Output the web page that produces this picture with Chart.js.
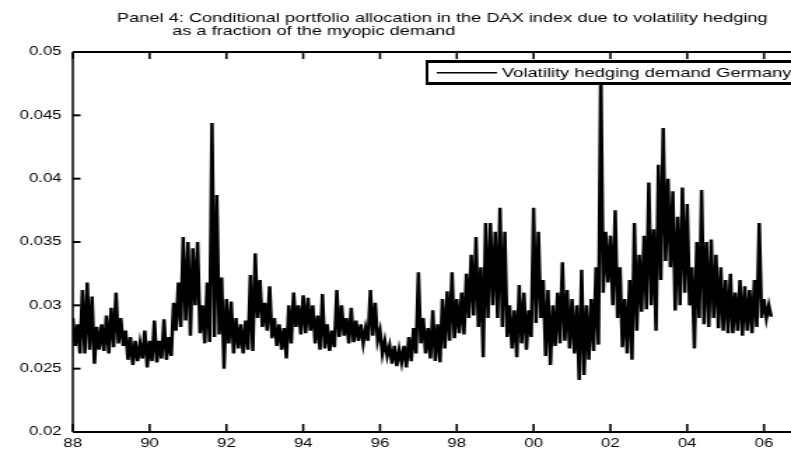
<!DOCTYPE html>
<html>
<head>
<meta charset="utf-8">
<script src="https://cdn.jsdelivr.net/npm/chart.js@4/dist/chart.umd.min.js"></script>
<style>
  html, body { margin: 0; padding: 0; background: #fff; }
  #wrap { width: 791px; height: 457px; overflow: hidden; }
  /* the figure is stretched sideways, like the exported panel */
  #chart { display: block; transform: scaleX(1.4); transform-origin: 0 0; }
</style>
</head>
<body>
<div id="wrap"><canvas id="chart" width="580" height="457"></canvas></div>
<script>
const titleLines = [
  'Panel 4: Conditional portfolio allocation in the DAX index due to volatility hedging',
  'as a fraction of the myopic demand'
];
const seriesName = 'Volatility hedging demand Germany';

const yearTicks = [88, 90, 92, 94, 96, 98, 100, 102, 104, 106];
const yearLabels = ['88', '90', '92', '94', '96', '98', '00', '02', '04', '06'];
const yTicks = [0.02, 0.025, 0.03, 0.035, 0.04, 0.045, 0.05];

// one column every eighth of a year: high and low of the weekly series
const firstYear = 88;
const yearStep = 0.125;

const highs = [
  0.0290, 0.0285, 0.0312, 0.0318, 0.0307, 0.0283, 0.0285, 0.0292, 0.0298, 0.0310,
  0.0290, 0.0280, 0.0275, 0.0272, 0.0270, 0.0280, 0.0272, 0.0288, 0.0272, 0.0289,
  0.0275, 0.0302, 0.0318, 0.0354, 0.0350, 0.0345, 0.0350, 0.0300, 0.0318, 0.0444,
  0.0387, 0.0322, 0.0305, 0.0303, 0.0290, 0.0285, 0.0288, 0.0324, 0.0341, 0.0320,
  0.0302, 0.0315, 0.0290, 0.0285, 0.0282, 0.0300, 0.0310, 0.0300, 0.0308, 0.0306,
  0.0300, 0.0292, 0.0309, 0.0285, 0.0280, 0.0312, 0.0300, 0.0290, 0.0298, 0.0288,
  0.0285, 0.0282, 0.0312, 0.0302, 0.0280, 0.0272, 0.0268, 0.0268, 0.0265, 0.0268,
  0.0275, 0.0282, 0.0326, 0.0290, 0.0282, 0.0296, 0.0285, 0.0305, 0.0311, 0.0326,
  0.0305, 0.0310, 0.0325, 0.0340, 0.0354, 0.0330, 0.0365, 0.0365, 0.0358, 0.0377,
  0.0358, 0.0300, 0.0296, 0.0316, 0.0310, 0.0296, 0.0377, 0.0358, 0.0320, 0.0312,
  0.0300, 0.0310, 0.0334, 0.0312, 0.0305, 0.0300, 0.0328, 0.0300, 0.0305, 0.0330,
  0.0490, 0.0358, 0.0355, 0.0375, 0.0330, 0.0305, 0.0320, 0.0365, 0.0340, 0.0355,
  0.0397, 0.0360, 0.0411, 0.0440, 0.0400, 0.0390, 0.0370, 0.0393, 0.0380, 0.0330,
  0.0350, 0.0391, 0.0350, 0.0352, 0.0340, 0.0330, 0.0320, 0.0325, 0.0310, 0.0320,
  0.0315, 0.0312, 0.0320, 0.0365, 0.0305, 0.0300
];
const lows = [
  0.0268, 0.0262, 0.0262, 0.0265, 0.0254, 0.0265, 0.0264, 0.0262, 0.0267, 0.0270,
  0.0268, 0.0257, 0.0253, 0.0256, 0.0258, 0.0251, 0.0256, 0.0255, 0.0258, 0.0257,
  0.0260, 0.0280, 0.0283, 0.0288, 0.0276, 0.0300, 0.0278, 0.0270, 0.0271, 0.0275,
  0.0277, 0.0250, 0.0270, 0.0262, 0.0266, 0.0262, 0.0265, 0.0264, 0.0290, 0.0283,
  0.0280, 0.0274, 0.0268, 0.0265, 0.0258, 0.0270, 0.0283, 0.0277, 0.0278, 0.0280,
  0.0270, 0.0265, 0.0266, 0.0264, 0.0267, 0.0275, 0.0276, 0.0270, 0.0271, 0.0272,
  0.0270, 0.0272, 0.0276, 0.0272, 0.0262, 0.0260, 0.0254, 0.0252, 0.0255, 0.0251,
  0.0256, 0.0262, 0.0270, 0.0262, 0.0258, 0.0256, 0.0255, 0.0266, 0.0272, 0.0274,
  0.0278, 0.0277, 0.0290, 0.0292, 0.0283, 0.0259, 0.0290, 0.0300, 0.0290, 0.0283,
  0.0275, 0.0266, 0.0259, 0.0270, 0.0265, 0.0275, 0.0286, 0.0290, 0.0260, 0.0253,
  0.0268, 0.0270, 0.0272, 0.0266, 0.0262, 0.0241, 0.0245, 0.0257, 0.0264, 0.0269,
  0.0310, 0.0318, 0.0300, 0.0290, 0.0267, 0.0262, 0.0257, 0.0280, 0.0295, 0.0297,
  0.0300, 0.0280, 0.0320, 0.0335, 0.0330, 0.0296, 0.0300, 0.0310, 0.0300, 0.0266,
  0.0290, 0.0285, 0.0283, 0.0290, 0.0282, 0.0280, 0.0278, 0.0278, 0.0280, 0.0276,
  0.0280, 0.0278, 0.0283, 0.0290, 0.0290, 0.0291
];

const points = [];
highs.forEach((h, i) => {
  const t = firstYear + i * yearStep;
  points.push({ x: t, y: h });
  points.push({ x: t + yearStep / 2, y: lows[i] });
});

const FONT = '"Liberation Sans", Arial, sans-serif';

// matlab-style box: inward ticks on every side, title and legend drawn on top
const framePlugin = {
  id: 'frame',
  afterDraw(chart) {
    const { ctx, chartArea: a, scales: { x, y } } = chart;
    const line = (x1, y1, x2, y2) => {
      ctx.beginPath();
      ctx.moveTo(x1, y1);
      ctx.lineTo(x2, y2);
      ctx.stroke();
    };
    ctx.save();
    ctx.strokeStyle = '#000';
    ctx.fillStyle = '#000';

    ctx.lineWidth = 1.6;
    yearTicks.forEach(v => {
      const px = x.getPixelForValue(v);
      line(px, a.bottom, px, a.bottom - 8);
      line(px, a.top, px, a.top + 7);
    });
    ctx.lineWidth = 2;
    yTicks.forEach(v => {
      const py = y.getPixelForValue(v);
      line(a.left, py, a.left + 5.5, py);
      line(a.right, py, a.right - 5.5, py);
    });

    ctx.lineWidth = 2;
    line(a.left, a.top, a.right, a.top);
    line(a.left, a.bottom, a.right, a.bottom);
    ctx.lineWidth = 1.5;
    line(a.left, a.top, a.left, a.bottom);
    line(a.right, a.top, a.right, a.bottom);

    // title, second line indented
    ctx.font = '13px ' + FONT;
    ctx.textAlign = 'left';
    ctx.textBaseline = 'alphabetic';
    ctx.fillText(titleLines[0], 83.6, 22);
    ctx.fillText(titleLines[1], 123, 35);

    // legend box in the upper right corner
    const lx = 305, ly = 61.5, lb = 83.5, lr = a.right - 6;
    ctx.fillStyle = '#fff';
    ctx.fillRect(lx, ly, lr - lx, lb - ly);
    ctx.lineWidth = 3;
    line(lx - 1, ly, lr, ly);
    line(lx - 1, lb, lr, lb);
    ctx.lineWidth = 2;
    line(lx, ly, lx, lb);
    line(lr, ly, lr, lb);
    ctx.lineWidth = 1.5;
    line(312, 72.7, 355, 72.7);
    ctx.fillStyle = '#000';
    ctx.font = '13.1px ' + FONT;
    ctx.fillText(seriesName, 358.6, 77.3);
    ctx.restore();
  }
};

new Chart(document.getElementById('chart'), {
  type: 'line',
  data: {
    datasets: [{
      label: seriesName,
      data: points,
      borderColor: '#000',
      borderWidth: 2.5,
      pointRadius: 0,
      tension: 0,
      fill: false,
    }],
  },
  options: {
    responsive: false,
    animation: false,
    devicePixelRatio: 1,
    layout: { padding: { top: 52, left: 0, right: 0, bottom: 0 } },
    plugins: { legend: { display: false }, tooltip: { enabled: false } },
    scales: {
      x: {
        type: 'linear',
        min: 88,
        max: 107.25,
        grid: { display: false, drawTicks: false },
        border: { display: false },
        afterBuildTicks: (s) => { s.ticks = yearTicks.map((v) => ({ value: v })); },
        afterFit: (s) => { s.height = 25; },
        ticks: {
          padding: 4,
          color: '#000',
          autoSkip: false,
          maxRotation: 0,
          font: { family: FONT, size: 12 },
          callback: (v, i) => yearLabels[i],
        },
      },
      y: {
        min: 0.02,
        max: 0.05,
        grid: { display: false, drawTicks: false },
        border: { display: false },
        afterBuildTicks: (s) => { s.ticks = yTicks.map((v) => ({ value: v })); },
        afterFit: (s) => { s.width = 52; },
        ticks: {
          padding: 8,
          color: '#000',
          font: { family: FONT, size: 12 },
          callback: (v) => String(v),
        },
      },
    },
  },
  plugins: [framePlugin],
});
</script>
</body>
</html>
